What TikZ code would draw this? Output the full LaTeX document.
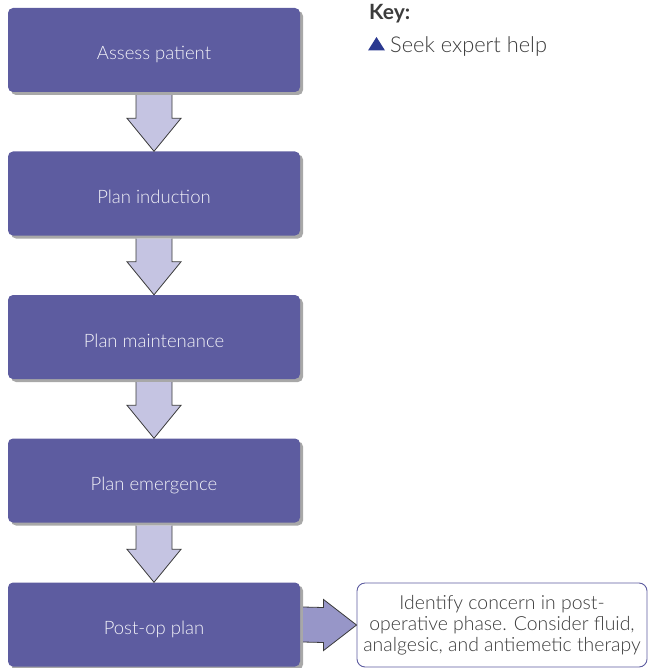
\documentclass[tikz,border=0pt]{standalone}
\usepackage{fontspec}
\setmainfont{Lato Light}[BoldFont={Lato Bold}]
\usetikzlibrary{calc,shadows}
\definecolor{boxfill}{HTML}{5D5CA0}
\definecolor{boxtext}{HTML}{F2F2F8}
\definecolor{shadowgray}{HTML}{A8A8A8}
\definecolor{darrfill}{HTML}{C5C4E2}
\definecolor{rarrfill}{HTML}{9796C8}
\definecolor{edgegray}{HTML}{3A3A3A}
\definecolor{keyblue}{HTML}{2B3990}
\definecolor{txtgray}{HTML}{3C3C3C}
\tikzset{
  stepbox/.style={rectangle, rounded corners=5pt, fill=boxfill, text=boxtext,
    minimum width=292pt, minimum height=84pt, inner sep=0pt,
    text height=22pt, text depth=2pt,
    font=\fontsize{18.5}{22}\selectfont,
    drop shadow={shadow xshift=3pt, shadow yshift=-3pt, fill=shadowgray, opacity=1}},
  notebox/.style={rectangle, rounded corners=8pt, draw=boxfill, line width=0.9pt, fill=white,
    text=txtgray, minimum width=290pt, minimum height=84pt, inner sep=0pt,
    align=center, font=\fontsize{19.4}{21}\selectfont},
  darr/.style={draw=edgegray, line width=0.8pt, fill=darrfill, line join=miter},
  rarr/.style={draw=edgegray, line width=0.8pt, fill=rarrfill, line join=miter},
  keytext/.style={anchor=west, text=txtgray, inner sep=0pt, font=\fontsize{21.8}{24}\selectfont}
}
\begin{document}
\begin{tikzpicture}[x=1pt,y=-1pt]
\useasboundingbox (0,0) rectangle (648,668);
% positions
\coordinate (c1) at (154,50);
\coordinate (c2) at (154,193.5);
\coordinate (c3) at (154,337);
\coordinate (c4) at (154,480.5);
\coordinate (c5) at (154,624.5);
\node[stepbox] (b1) at (c1) {Assess patient};
\node[stepbox] (b2) at (c2) {Plan induction};
\node[stepbox] (b3) at (c3) {Plan maintenance};
\node[stepbox] (b4) at (c4) {Plan emergence};
\node[stepbox] (b5) at (c5) {Post-op plan};
\node[notebox] (n) at (502,625) {Identify concern in post-\\operative phase. Consider fluid,\\analgesic, and antiemetic therapy};
% down arrows
\foreach \a/\b in {b1/b2,b2/b3,b3/b4,b4/b5}{
  \draw[darr] ($(\a.south)+(-18,3)$) -- ($(\b.north)+(-18,-33)$) -- ($(\b.north)+(-27,-33)$)
    -- (\b.north) -- ($(\b.north)+(27,-33)$) -- ($(\b.north)+(18,-33)$) -- ($(\a.south)+(18,3)$);
}
% right arrow
\draw[rarr] ($(b5.east)+(3,-17.5)$) -- ($(n.west)+(-33,-17.5)$) -- ($(n.west)+(-33,-25.5)$)
  -- (n.west) -- ($(n.west)+(-33,25.5)$) -- ($(n.west)+(-33,17.5)$) -- ($(b5.east)+(3,17.5)$);
% key
\node[keytext, font=\fontsize{21}{24}\selectfont\bfseries] (key) at (369,14) {Key:};
\coordinate (t1) at (368,50.5);
\fill[keyblue] (t1) -- ++(17,0) -- ++(-8.5,-13.5) -- cycle;
\node[keytext] (keyitem) at (390,46) {Seek expert help};
\end{tikzpicture}
\end{document}
